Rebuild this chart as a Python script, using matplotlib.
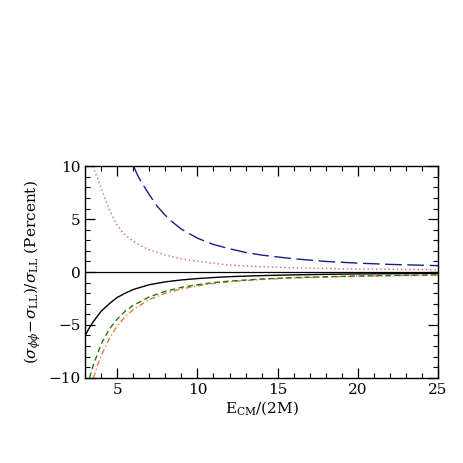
import numpy as np
import matplotlib
matplotlib.use("Agg")
import matplotlib.pyplot as plt
from matplotlib.ticker import MultipleLocator

plt.rcParams['font.family'] = ['DejaVu Serif']
plt.rcParams['mathtext.fontset'] = 'dejavuserif'

# curves: x = E_CM/(2M), y = percent
black_x = [3.0, 3.25, 3.5, 4.0, 4.5, 5.0, 5.5, 6.0, 7.0, 8.0, 9.0, 10, 11, 12, 14, 16, 18, 20, 22, 25]
black_y = [-6.0, -5.3, -4.7, -3.7, -3.0, -2.4, -2.0, -1.65, -1.2, -0.93, -0.75, -0.62, -0.52,
           -0.44, -0.34, -0.27, -0.22, -0.18, -0.16, -0.13]

green_x = [3.27, 3.5, 4.0, 4.5, 5.0, 5.5, 6.0, 7.0, 8.0, 9.0, 10, 11, 12, 14, 16, 18, 20, 22, 25]
green_y = [-10, -8.8, -6.8, -5.4, -4.45, -3.7, -3.15, -2.35, -1.82, -1.45, -1.2, -1.0, -0.86,
           -0.66, -0.53, -0.45, -0.38, -0.33, -0.27]

orange_x = [3.52, 3.75, 4.0, 4.5, 5.0, 5.5, 6.0, 7.0, 8.0, 9.0, 10, 11, 12, 14, 16, 18, 20, 22, 25]
orange_y = [-10, -8.9, -7.9, -6.3, -5.1, -4.2, -3.55, -2.6, -2.0, -1.6, -1.3, -1.08, -0.92,
            -0.7, -0.56, -0.47, -0.4, -0.35, -0.29]

red_x = [3.48, 3.75, 4.0, 4.25, 4.5, 4.75, 5.0, 5.25, 5.5, 6.0, 6.5, 7.0, 8.0, 9.0, 10, 11, 12,
         14, 16, 18, 20, 22, 25]
red_y = [10.0, 8.9, 7.9, 6.9, 5.9, 5.1, 4.4, 3.9, 3.5, 2.9, 2.45, 2.1, 1.6, 1.25, 1.02, 0.84,
         0.65, 0.5, 0.4, 0.33, 0.28, 0.25, 0.22]

blue_x = [6.02, 6.25, 6.5, 6.75, 7.0, 7.5, 8.0, 8.5, 9.0, 10, 11, 12, 13, 14, 16, 18, 20, 22, 25]
blue_y = [10, 9.2, 8.5, 7.9, 7.3, 6.2, 5.35, 4.65, 4.05, 3.2, 2.6, 2.2, 1.85, 1.6, 1.25, 1.0,
          0.84, 0.72, 0.6]

fig = plt.figure(figsize=(4.63, 4.63), dpi=100)
ax = fig.add_axes([0.184, 0.184, 0.762, 0.457])

ax.axhline(0, color="black", lw=0.9)
ax.plot(blue_x, blue_y, color="#1c1c8c", lw=1.0, dashes=(12, 4))
ax.plot(red_x, red_y, color="#e06060", lw=1.0, dashes=(1, 2))
ax.plot(black_x, black_y, color="black", lw=1.0)
ax.plot(orange_x, orange_y, color="#f07a30", lw=1.0, dashes=(4, 2, 1, 2))
ax.plot(green_x, green_y, color="#1e7a1e", lw=1.0, dashes=(4, 2.5))

ax.set_xlim(3, 25)
ax.set_ylim(-10, 10)
ax.xaxis.set_major_locator(MultipleLocator(5))
ax.xaxis.set_minor_locator(MultipleLocator(1))
ax.yaxis.set_major_locator(MultipleLocator(5))
ax.yaxis.set_minor_locator(MultipleLocator(1))
ax.tick_params(which="both", direction="in", top=True, right=True, labelsize=11)
ax.tick_params(which="major", length=7, width=0.9)
ax.tick_params(which="minor", length=3.5, width=0.8)
for s in ax.spines.values():
    s.set_linewidth(1.0)

ax.set_xlabel(r"$\mathrm{E_{CM}/(2M)}$", fontsize=11, labelpad=2)
ax.set_ylabel(r"$(\sigma_{\phi\phi}\!-\!\sigma_{\rm LL})/\sigma_{\rm LL}$ (Percent)",
              fontsize=11, labelpad=4)

fig.savefig("out.png", dpi=100)
